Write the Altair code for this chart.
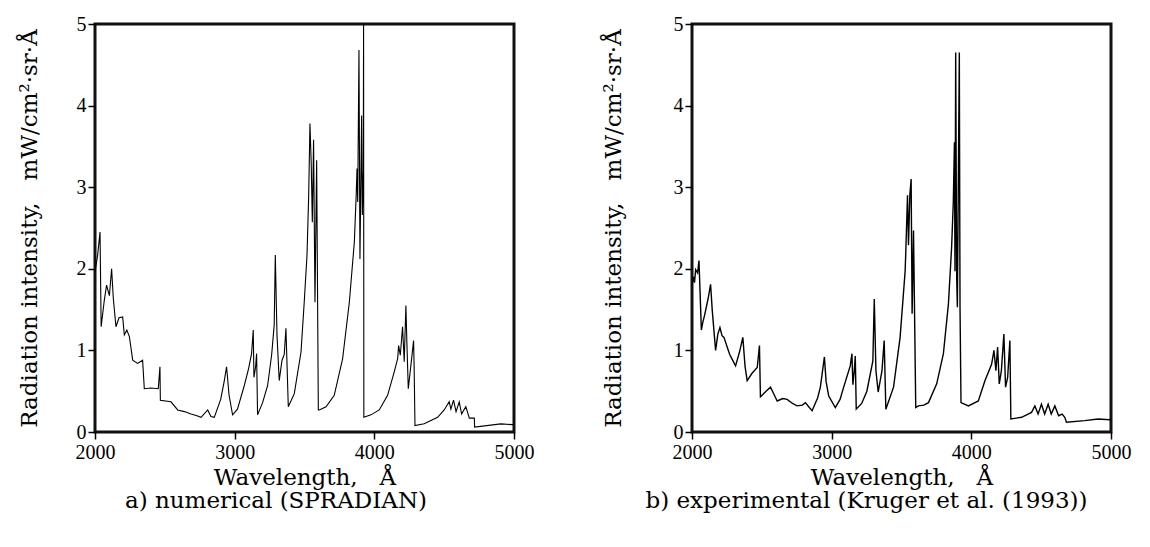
import altair as alt
import pandas as pd

# a) numerical (SPRADIAN)
num_wl = [2000, 2019, 2036, 2044, 2067, 2083, 2095, 2103, 2119, 2131, 2150, 2172, 2198, 2210, 2228, 2246,
          2270, 2305, 2341, 2353, 2400, 2453, 2465, 2468, 2544, 2592, 2640, 2687, 2730, 2759, 2807, 2830,
          2854, 2900, 2925, 2942, 2960, 2985, 3020, 3069, 3100, 3121, 3133, 3138, 3150, 3157, 3164, 3200,
          3236, 3265, 3283, 3291, 3303, 3319, 3339, 3355, 3367, 3384, 3427, 3475, 3498, 3518, 3530, 3539,
          3548, 3556, 3565, 3575, 3587, 3599, 3606, 3654, 3713, 3773, 3821, 3857, 3870, 3876, 3881, 3890,
          3897, 3909, 3914, 3921, 3923, 3925, 3976, 4035, 4095, 4143, 4167, 4174, 4186, 4202, 4214, 4226,
          4233, 4243, 4262, 4281, 4285, 4291, 4357, 4453, 4500, 4536, 4548, 4567, 4585, 4608, 4625, 4655,
          4680, 4716, 4718, 4906, 4990, 5000]
num_val = [1.96, 2.17, 2.45, 1.29, 1.62, 1.80, 1.72, 1.67, 2.00, 1.64, 1.29, 1.40, 1.41, 1.19, 1.25, 1.17,
           0.88, 0.84, 0.88, 0.53, 0.54, 0.53, 0.80, 0.39, 0.37, 0.27, 0.25, 0.22, 0.20, 0.18, 0.27, 0.19,
           0.18, 0.40, 0.62, 0.80, 0.45, 0.21, 0.28, 0.57, 0.78, 0.96, 1.25, 0.67, 0.80, 0.96, 0.21, 0.36,
           0.57, 0.95, 1.31, 2.17, 1.19, 0.63, 0.88, 0.95, 1.27, 0.31, 0.47, 0.98, 1.59, 2.17, 2.90, 3.78,
           3.30, 2.57, 3.58, 1.59, 3.33, 0.27, 0.27, 0.31, 0.45, 0.90, 1.59, 2.33, 2.90, 3.23, 2.82, 4.68,
           2.12, 3.88, 2.66, 3.20, 5.00, 0.18, 0.21, 0.27, 0.45, 0.74, 0.90, 1.06, 0.94, 1.29, 0.86, 1.55,
           1.10, 0.53, 0.82, 1.12, 0.80, 0.08, 0.10, 0.18, 0.27, 0.37, 0.28, 0.39, 0.25, 0.37, 0.22, 0.31,
           0.17, 0.17, 0.06, 0.10, 0.09, 0.10]

# b) experimental (Kruger et al. (1993))
exp_wl = [2000, 2010, 2018, 2026, 2040, 2050, 2067, 2078, 2090, 2105, 2117, 2133, 2145, 2169, 2185, 2200,
          2215, 2229, 2250, 2270, 2288, 2312, 2340, 2364, 2380, 2395, 2430, 2467, 2483, 2490, 2530, 2562,
          2590, 2610, 2650, 2681, 2720, 2752, 2790, 2812, 2840, 2860, 2900, 2919, 2948, 2960, 2979, 3026,
          3060, 3086, 3133, 3145, 3152, 3162, 3169, 3176, 3215, 3252, 3295, 3305, 3317, 3333, 3360, 3376,
          3388, 3443, 3490, 3526, 3531, 3543, 3550, 3560, 3569, 3576, 3586, 3602, 3621, 3660, 3693, 3752,
          3800, 3836, 3859, 3871, 3879, 3883, 3888, 3895, 3900, 3914, 3919, 3926, 3979, 4050, 4098, 4145,
          4162, 4176, 4188, 4200, 4215, 4233, 4245, 4260, 4276, 4283, 4360, 4431, 4455, 4478, 4502, 4525,
          4550, 4572, 4598, 4625, 4650, 4669, 4681, 4812, 4907, 4990, 5000]
exp_val = [1.81, 1.90, 1.83, 1.99, 1.95, 2.10, 1.25, 1.35, 1.43, 1.55, 1.65, 1.81, 1.49, 1.00, 1.20, 1.28,
           1.18, 1.16, 1.05, 0.95, 0.89, 0.81, 0.98, 1.16, 0.80, 0.63, 0.72, 0.79, 1.06, 0.43, 0.50, 0.55,
           0.45, 0.38, 0.41, 0.40, 0.35, 0.32, 0.33, 0.36, 0.30, 0.26, 0.42, 0.55, 0.92, 0.62, 0.44, 0.30,
           0.40, 0.55, 0.81, 0.96, 0.58, 0.75, 0.93, 0.28, 0.35, 0.50, 0.87, 1.63, 0.75, 0.49, 0.75, 1.12,
           0.28, 0.55, 1.16, 1.97, 2.22, 2.90, 2.29, 2.91, 3.10, 1.45, 2.47, 0.30, 0.32, 0.33, 0.36, 0.59,
           0.96, 1.57, 2.27, 2.82, 3.55, 1.97, 4.65, 1.90, 1.53, 4.65, 1.53, 0.36, 0.32, 0.38, 0.63, 0.83,
           1.00, 0.75, 1.04, 0.59, 0.75, 1.20, 0.55, 0.67, 1.12, 0.16, 0.18, 0.24, 0.32, 0.22, 0.34, 0.22,
           0.34, 0.22, 0.32, 0.20, 0.22, 0.18, 0.12, 0.14, 0.16, 0.15, 0.16]

x_ticks = [2000, 3000, 4000, 5000]
y_ticks = [0, 1, 2, 3, 4, 5]

LABEL_FONT = "Liberation Serif"
TITLE_FONT = "DejaVu Serif"
NB = "\u00a0"
y_title = "Radiation intensity," + NB * 3 + "mW/cm²·sr·Å"
x_title = "Wavelength," + NB * 3 + "Å"


def panel(wl, val, caption, ytp, sw):
    df = pd.DataFrame({"wl": wl, "val": val})
    return alt.Chart(df, title=alt.TitleParams(
        caption, orient="bottom", anchor="middle", frame="bounds",
        font=TITLE_FONT, fontSize=23, fontWeight="normal", color="black", offset=1)
    ).mark_line(color="black", strokeWidth=sw, clip=True, interpolate="linear").encode(
        x=alt.X("wl:Q", scale=alt.Scale(domain=[2000, 5000], nice=False, zero=False),
                axis=alt.Axis(values=x_ticks, title=x_title, format="d", titlePadding=4,
                              labelFlush=False, labelPadding=3)),
        y=alt.Y("val:Q", scale=alt.Scale(domain=[0, 5], nice=False),
                axis=alt.Axis(values=y_ticks, title=y_title, titlePadding=ytp,
                              labelFlush=False, labelPadding=2)),
        order="wl:Q",
    ).properties(width=419, height=408)


left = panel(num_wl, num_val, "a) numerical (SPRADIAN)", 35, 1.1)
right = panel(exp_wl, exp_val, "b) experimental (Kruger et al. (1993))", 48, 1.4)

chart = alt.hconcat(left, right, spacing=64).properties(
    padding={"left": 8, "top": 4, "right": 5, "bottom": 0}
).configure_view(
    stroke="#111", strokeWidth=3
).configure_axis(
    domain=False, ticks=True, tickColor="black", tickWidth=1.5, tickSize=7,
    labelFont=LABEL_FONT, labelFontSize=20, labelColor="black",
    titleFont=TITLE_FONT, titleFontSize=23, titleFontWeight="normal", titleColor="black",
    grid=False,
)

chart.save("out.html", embed_options={"renderer": "svg", "actions": False})
